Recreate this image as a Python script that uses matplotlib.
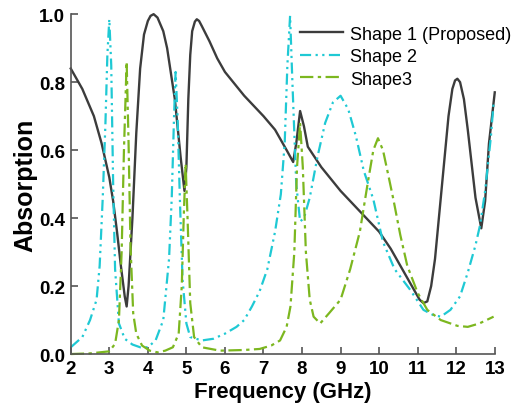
import matplotlib
matplotlib.use("Agg")
from matplotlib import pyplot as plt

plt.rcParams['font.family'] = ['Liberation Sans', 'DejaVu Sans']

# Shape 1 (Proposed)
f1 = [2.0, 2.3, 2.6, 2.8, 3.0, 3.1, 3.2, 3.3, 3.4, 3.45, 3.5, 3.6, 3.7, 3.8, 3.9,
      4.0, 4.07, 4.15, 4.25, 4.4, 4.5, 4.7, 4.85, 4.95, 5.0, 5.05, 5.1, 5.15,
      5.22, 5.27, 5.33, 5.4, 5.6, 5.8, 6.0, 6.5, 7.0, 7.3, 7.6, 7.77, 7.85, 7.95,
      8.05, 8.15, 8.5, 9.0, 9.5, 10.0, 10.3, 10.6, 10.9, 11.05, 11.15, 11.25,
      11.35, 11.45, 11.6, 11.8, 11.9, 11.97, 12.03, 12.1, 12.2, 12.3, 12.5,
      12.65, 12.75, 12.85, 13.0]
a1 = [0.84, 0.78, 0.70, 0.62, 0.52, 0.45, 0.36, 0.26, 0.17, 0.14, 0.20, 0.40, 0.65,
      0.84, 0.94, 0.98, 0.995, 1.0, 0.99, 0.95, 0.90, 0.75, 0.58, 0.48, 0.55,
      0.75, 0.88, 0.95, 0.978, 0.985, 0.98, 0.965, 0.92, 0.87, 0.83, 0.76, 0.70,
      0.66, 0.60, 0.565, 0.62, 0.715, 0.67, 0.61, 0.55, 0.48, 0.42, 0.36, 0.31,
      0.25, 0.19, 0.16, 0.15, 0.155, 0.20, 0.28, 0.46, 0.70, 0.78, 0.805, 0.81,
      0.80, 0.75, 0.66, 0.46, 0.37, 0.45, 0.62, 0.77]

# Shape 2
f2 = [2.0, 2.3, 2.5, 2.67, 2.75, 2.83, 2.9, 2.95, 3.0, 3.05, 3.1, 3.15, 3.25, 3.4,
      3.6, 3.8, 4.0, 4.2, 4.4, 4.55, 4.62, 4.68, 4.72, 4.77, 4.83, 4.9, 5.0, 5.1,
      5.4, 5.7, 6.0, 6.3, 6.5, 6.7, 6.9, 7.1, 7.3, 7.45, 7.55, 7.62, 7.69, 7.75,
      7.85, 7.95, 8.05, 8.2, 8.4, 8.6, 8.8, 9.0, 9.2, 9.4, 9.6, 9.85, 10.1, 10.4,
      10.8, 11.15, 11.4, 11.6, 11.85, 12.1, 12.3, 12.5, 12.62, 12.75, 12.9, 12.97]
a2 = [0.02, 0.05, 0.10, 0.16, 0.26, 0.46, 0.68, 0.88, 0.985, 0.85, 0.50, 0.25, 0.09,
      0.045, 0.028, 0.02, 0.02, 0.04, 0.10, 0.28, 0.46, 0.70, 0.83, 0.70, 0.46,
      0.22, 0.09, 0.05, 0.04, 0.045, 0.06, 0.08, 0.10, 0.14, 0.185, 0.25, 0.36,
      0.47, 0.62, 0.85, 0.995, 0.80, 0.50, 0.39, 0.40, 0.46, 0.58, 0.68, 0.74,
      0.76, 0.72, 0.64, 0.54, 0.455, 0.33, 0.25, 0.19, 0.13, 0.115, 0.11, 0.13,
      0.17, 0.24, 0.32, 0.38, 0.48, 0.64, 0.74]

# Shape3
f3 = [2.0, 2.5, 3.0, 3.15, 3.25, 3.32, 3.38, 3.45, 3.5, 3.55, 3.62, 3.7, 3.85,
      4.05, 4.25, 4.45, 4.65, 4.8, 4.88, 4.93, 4.98, 5.03, 5.1, 5.2, 5.4, 5.87,
      6.5, 6.9, 7.2, 7.43, 7.6, 7.7, 7.8, 7.87, 7.95, 8.02, 8.1, 8.2, 8.3, 8.47,
      8.7, 9.0, 9.25, 9.5, 9.7, 9.85, 9.97, 10.1, 10.25, 10.37, 10.55, 10.73,
      11.0, 11.25, 11.6, 12.03, 12.3, 12.6, 12.97]
a3 = [0.0, 0.002, 0.008, 0.03, 0.10, 0.30, 0.60, 0.86, 0.62, 0.32, 0.12, 0.06,
      0.025, 0.01, 0.005, 0.01, 0.02, 0.06, 0.20, 0.40, 0.56, 0.40, 0.15, 0.05,
      0.02, 0.01, 0.012, 0.015, 0.025, 0.04, 0.08, 0.14, 0.30, 0.55, 0.68, 0.55,
      0.30, 0.16, 0.11, 0.09, 0.12, 0.16, 0.25, 0.36, 0.50, 0.60, 0.635, 0.60,
      0.52, 0.455, 0.35, 0.26, 0.18, 0.13, 0.10, 0.083, 0.08, 0.09, 0.11]

xticks = list(range(2, 14))
yticks = [0.0, 0.2, 0.4, 0.6, 0.8, 1.0]

fig = plt.figure(figsize=(5.32, 4.10), dpi=100)
ax = fig.add_axes([0.133, 0.134, 0.797, 0.829])

ax.plot(f1, a1, color='#3c3c3c', lw=1.7, label='Shape 1 (Proposed)', clip_on=False)
ax.plot(f2, a2, color='#1fc9d4', lw=1.6, ls=(0, (5, 2, 1, 2, 1, 2)),
        label='Shape 2', clip_on=False)
ax.plot(f3, a3, color='#7cb71f', lw=1.6, ls=(0, (6, 2, 1.5, 2)),
        label='Shape3', clip_on=False)

ax.set_xlim(2, 13)
ax.set_ylim(0, 1.0)
ax.set_xticks(xticks)
ax.set_yticks(yticks)
ax.set_yticklabels(['%.1f' % v for v in yticks])
for s in ['top', 'right']:
    ax.spines[s].set_visible(False)
for s in ['left', 'bottom']:
    ax.spines[s].set_color('#555555')
    ax.spines[s].set_linewidth(1.2)
ax.tick_params(direction='in', length=5, width=1.2, color='#555555',
               labelsize=13.5, pad=4)
for lab in ax.get_xticklabels() + ax.get_yticklabels():
    lab.set_fontweight('bold')

ax.set_xlabel('Frequency (GHz)', fontsize=16, fontweight='bold', labelpad=3)
ax.set_ylabel('Absorption', fontsize=18, fontweight='bold', labelpad=1)

ax.legend(loc='upper left', bbox_to_anchor=(0.54, 0.966), frameon=False,
          fontsize=13, borderpad=0, borderaxespad=0, handlelength=2.4,
          handletextpad=0.4, labelspacing=0.3)

fig.savefig('out.png', dpi=100)
